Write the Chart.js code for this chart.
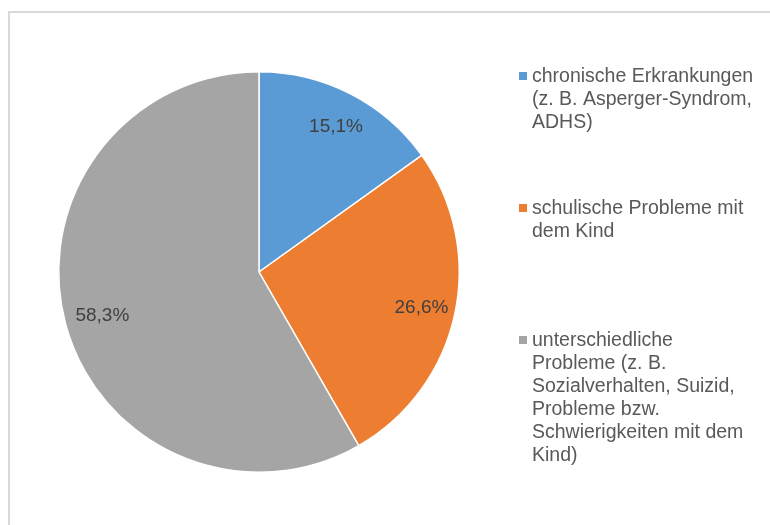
<!DOCTYPE html>
<html>
<head>
<meta charset="utf-8">
<script src="https://cdn.jsdelivr.net/npm/chart.js@4"></script>
<style>
  html, body { margin: 0; padding: 0; background: #fff; }
  #wrap { width: 770px; height: 525px; }
</style>
</head>
<body>
<div id="wrap"><canvas id="chart" width="770" height="525"></canvas></div>
<script>
var categories = [
  ['chronische Erkrankungen', '(z. B. Asperger-Syndrom,', 'ADHS)'],
  ['schulische Probleme mit', 'dem Kind'],
  ['unterschiedliche', 'Probleme (z. B.', 'Sozialverhalten, Suizid,', 'Probleme bzw.', 'Schwierigkeiten mit dem', 'Kind)']
];
var values = [15.1, 26.6, 58.3];
var valueLabels = ['15,1%', '26,6%', '58,3%'];
var colors = ['#5b9bd5', '#ed7d31', '#a5a5a5'];

var FONT = '19px "Liberation Sans", Arial, sans-serif';
var LEGEND_FONT = '19.5px "Liberation Sans", Arial, sans-serif';
var TEXT = '#595959';

// frame line round the chart
var framePlugin = {
  id: 'frame',
  beforeDraw: function (chart) {
    var ctx = chart.ctx;
    ctx.save();
    ctx.strokeStyle = '#d9d9d9';
    ctx.lineWidth = 2;
    ctx.strokeRect(9, 12, 800, 600);
    ctx.restore();
  }
};

// percent labels inside the slices
var valueLabelPlugin = {
  id: 'valueLabels',
  afterDatasetsDraw: function (chart) {
    var ctx = chart.ctx;
    var meta = chart.getDatasetMeta(0);
    ctx.save();
    ctx.font = FONT;
    ctx.fillStyle = '#404040';
    ctx.textAlign = 'center';
    ctx.textBaseline = 'middle';
    meta.data.forEach(function (arc, i) {
      var mid = (arc.startAngle + arc.endAngle) / 2;
      var r = arc.outerRadius * 0.82;
      ctx.fillText(valueLabels[i], arc.x + Math.cos(mid) * r + 2, arc.y + Math.sin(mid) * r + 1);
    });
    ctx.restore();
  }
};

// legend on the right with wrapped lines
var legendPlugin = {
  id: 'sideLegend',
  afterDraw: function (chart) {
    var ctx = chart.ctx;
    var x = 519, y0 = 77, step = 132, lineH = 23;
    ctx.save();
    ctx.font = LEGEND_FONT;
    ctx.textBaseline = 'middle';
    categories.forEach(function (lines, i) {
      var y = y0 + i * step;
      ctx.fillStyle = colors[i];
      ctx.fillRect(x, y - 5, 8, 8);
      ctx.fillStyle = TEXT;
      lines.forEach(function (line, j) {
        ctx.fillText(line, x + 13, y + j * lineH);
      });
    });
    ctx.restore();
  }
};

new Chart(document.getElementById('chart'), {
  type: 'pie',
  data: {
    labels: categories.map(function (c) { return c.join(' '); }),
    datasets: [{
      data: values,
      backgroundColor: colors,
      borderColor: '#ffffff',
      borderWidth: 1.5
    }]
  },
  options: {
    responsive: false,
    animation: false,
    layout: { padding: { left: 58, right: 310, top: 71, bottom: 52 } },
    plugins: {
      legend: { display: false },
      tooltip: { enabled: false }
    }
  },
  plugins: [framePlugin, valueLabelPlugin, legendPlugin]
});
</script>
</body>
</html>
